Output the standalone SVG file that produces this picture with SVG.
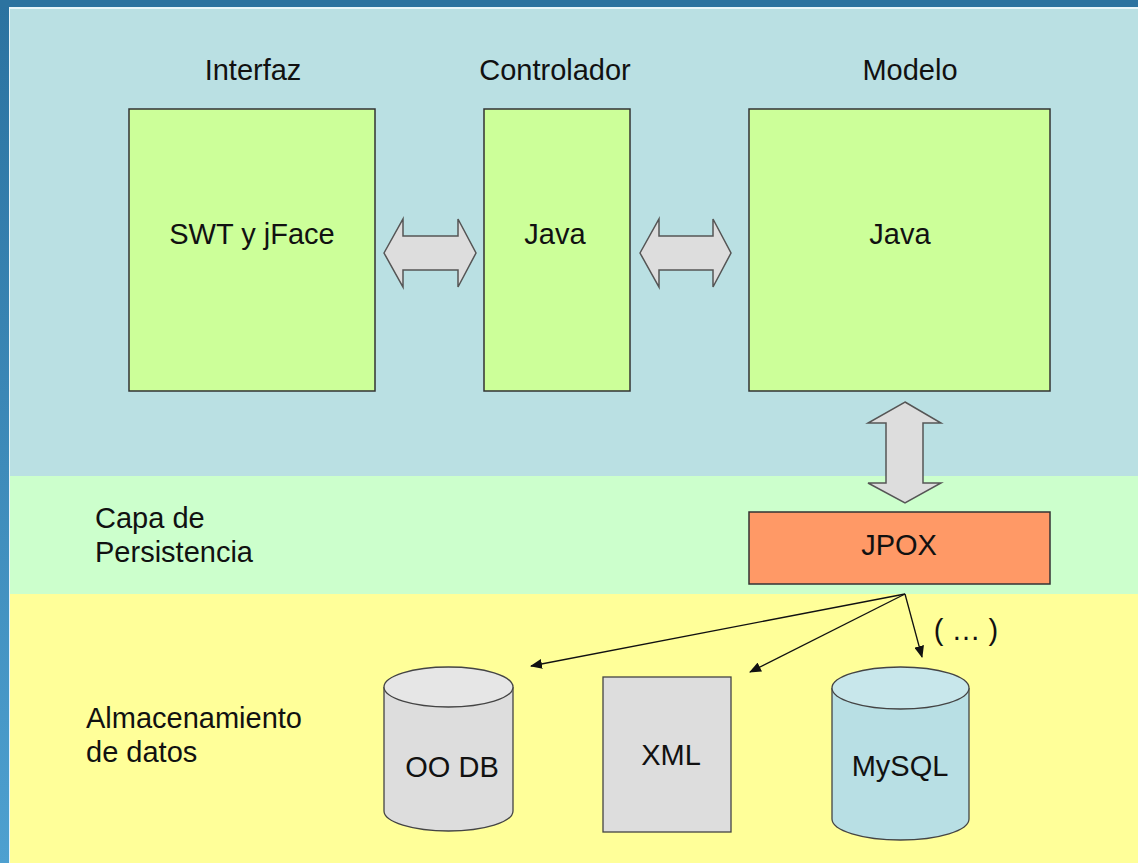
<svg xmlns="http://www.w3.org/2000/svg" width="1138" height="863" viewBox="0 0 1138 863">
<style>
text{font-family:"Liberation Sans",Arial,sans-serif;font-size:29px;fill:#111}
.c{text-anchor:middle}
.box{fill:#ccff99;stroke:#333;stroke-width:1.5}
.arr{fill:#dddddd;stroke:#555;stroke-width:1.5;stroke-linejoin:miter}
.ln{stroke:#111;stroke-width:1.3;fill:none}
</style>
<defs>
<linearGradient id="side" x1="0" y1="0" x2="0" y2="1">
<stop offset="0" stop-color="#2b72a0"/>
<stop offset="1" stop-color="#4ea0d0"/>
</linearGradient>
<marker id="ah" viewBox="0 0 12 10" refX="11" refY="5" markerWidth="12" markerHeight="10" markerUnits="userSpaceOnUse" orient="auto">
<path d="M0,0 L12,5 L0,10 Z" fill="#111"/>
</marker>
</defs>
<g id="background">
<rect x="0" y="0" width="1138" height="863" fill="url(#side)"/>
<rect x="0" y="0" width="1138" height="7" fill="#2c73a0"/>
<rect x="9" y="7" width="1129" height="856" fill="#e8f6fa"/>
<rect x="10" y="9" width="1128" height="467" fill="#bae0e3"/>
<rect x="10" y="476" width="1128" height="118" fill="#ccffcc"/>
<rect x="10" y="594" width="1128" height="269" fill="#ffff99"/>
</g>
<g id="labels">
<text x="253" y="80" class="c">Interfaz</text>
<text x="555" y="80" class="c">Controlador</text>
<text x="910" y="80" class="c">Modelo</text>
<text x="95" y="528">Capa de</text>
<text x="95" y="562">Persistencia</text>
<text x="86" y="728">Almacenamiento</text>
<text x="86" y="762">de datos</text>
<text x="966" y="640" class="c">( … )</text>
</g>
<g id="interfaz">
<rect class="box" x="129" y="109" width="246" height="282"/>
<text x="252" y="244" class="c">SWT y jFace</text>
</g>
<g id="controlador">
<rect class="box" x="484" y="109" width="146" height="282"/>
<text x="555" y="244" class="c">Java</text>
</g>
<g id="modelo">
<rect class="box" x="749" y="109" width="301" height="282"/>
<text x="900" y="244" class="c">Java</text>
</g>
<g id="jpox">
<rect x="749" y="512" width="301" height="72" fill="#ff9966" stroke="#333" stroke-width="1.5"/>
<text x="899" y="555" class="c">JPOX</text>
</g>
<g id="oodb">
<path d="M384,687 L384,811 A64.5,20 0 0 0 513,811 L513,687" fill="#dddddd" stroke="#444" stroke-width="1.3"/>
<ellipse cx="448.5" cy="687" rx="64.5" ry="20" fill="#e6e6e6" stroke="#444" stroke-width="1.3"/>
<text x="452" y="777" class="c">OO DB</text>
</g>
<g id="xml">
<rect x="603" y="677" width="128" height="155" fill="#dddddd" stroke="#444" stroke-width="1.3"/>
<text x="671" y="765" class="c">XML</text>
</g>
<g id="mysql">
<path d="M832,688 L832,819 A68.5,21 0 0 0 969,819 L969,688" fill="#b8dfe4" stroke="#444" stroke-width="1.3"/>
<ellipse cx="900.5" cy="688" rx="68.5" ry="21" fill="#c8e7eb" stroke="#444" stroke-width="1.3"/>
<text x="900" y="776" class="c">MySQL</text>
</g>
<g id="connectors">
<path class="arr" d="M384,253 L403,219 L403,236 L458,236 L458,219 L476,253 L458,287 L458,270 L403,270 L403,287 Z"/>
<path class="arr" d="M640,253 L659,219 L659,236 L713,236 L713,219 L731,253 L713,287 L713,270 L659,270 L659,287 Z"/>
<path class="arr" d="M905,402 L941,423 L923,423 L923,483 L941,483 L905,503 L868,483 L886,483 L886,423 L868,423 Z"/>
<line class="ln" x1="905" y1="594" x2="531" y2="666" marker-end="url(#ah)"/>
<line class="ln" x1="905" y1="594" x2="750" y2="672" marker-end="url(#ah)"/>
<line class="ln" x1="905" y1="594" x2="922" y2="657" marker-end="url(#ah)"/>
</g>
</svg>
